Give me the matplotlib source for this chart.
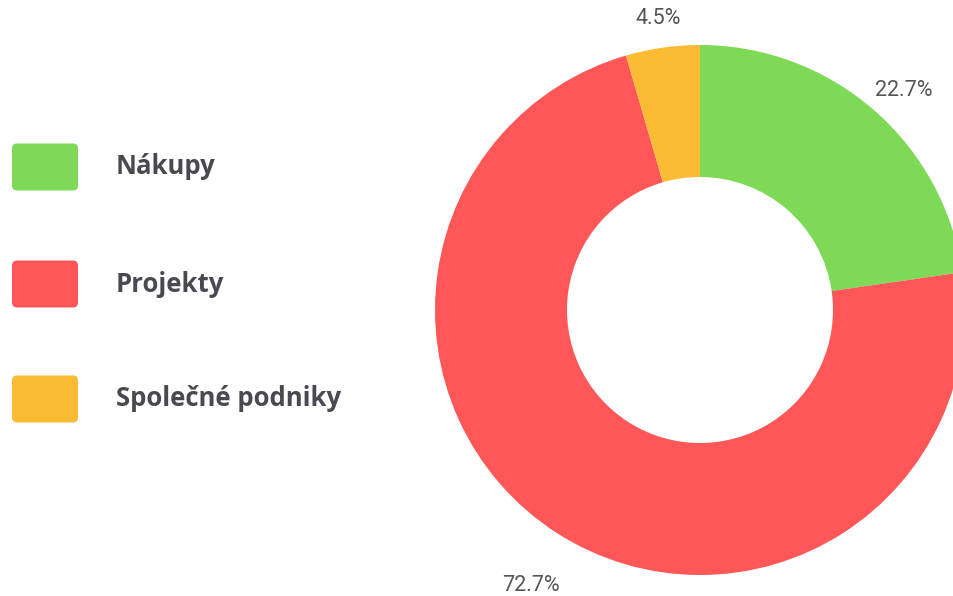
import numpy as np
import matplotlib
matplotlib.use("Agg")
import matplotlib.pyplot as plt
from matplotlib.patches import FancyBboxPatch

categories = ["Nákupy", "Projekty", "Společné podniky"]
values = [22.7, 72.7, 4.5]
value_labels = ["22.7%", "72.7%", "4.5%"]
colors = ["#7ED957", "#FF5757", "#FBBC33"]

W, H = 954, 596
fig = plt.figure(figsize=(W / 100, H / 100), dpi=100)
ax = fig.add_axes([0, 0, 1, 1])

cx, cy, r = 700, H - 310, 265
wedges, _ = ax.pie(values, colors=colors, startangle=90, counterclock=False,
                   center=(cx, cy), radius=r,
                   wedgeprops=dict(width=r - 133, linewidth=0))
ax.set_xlim(0, W)
ax.set_ylim(0, H)
ax.set_aspect("auto")
ax.axis("off")

# percentage labels outside the ring, small angle tweaks
dists = [1.13, 1.22, 1.11]
nudge = [-2.0, 1.2, 0]
for w, lab, d, n in zip(wedges, value_labels, dists, nudge):
    ang = np.deg2rad((w.theta1 + w.theta2) / 2 + n)
    ax.text(cx + d * r * np.cos(ang), cy + d * r * np.sin(ang), lab,
            ha="center", va="center", fontsize=15.5, color="#555555",
            family="Roboto")

# legend on the left
ys = [167, 284, 399]
for name, col, y in zip(categories, colors, ys):
    box = FancyBboxPatch((12, H - y - 23.5), 66, 47,
                         boxstyle="round,pad=0,rounding_size=5",
                         facecolor=col, edgecolor="none")
    ax.add_patch(box)
    ax.text(116, H - y, name, ha="left", va="center", fontsize=18.5,
            fontweight="bold", color="#4a4952", family="Open Sans")

fig.savefig("out.png", dpi=100)
